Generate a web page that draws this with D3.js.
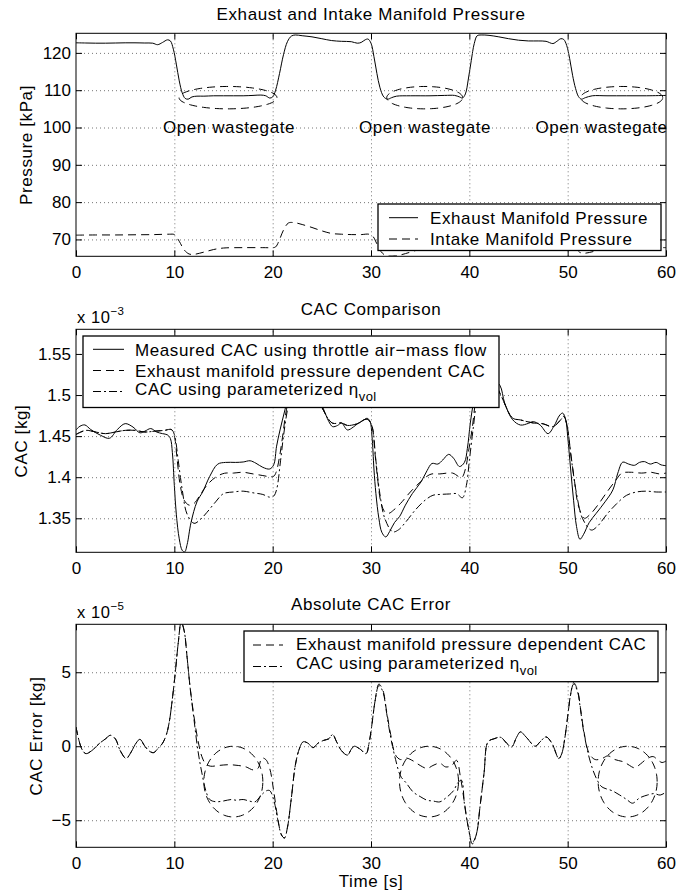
<!DOCTYPE html>
<html>
<head>
<meta charset="utf-8">
<script src="https://cdn.jsdelivr.net/npm/d3@7"></script>
<style>
  html, body { margin: 0; padding: 0; background: #fff; }
  svg { display: block; }
  text { font-family: "Liberation Sans", Arial, Helvetica, sans-serif; fill: #000; }
</style>
</head>
<body>
<svg id="chart" width="677" height="895"></svg>
<script>
// ---------- shared axis data ----------
const timeTicks = [0, 10, 20, 30, 40, 50, 60];

// ---------- panel 1: manifold pressures [kPa] ----------
const pressureTicks = [70, 80, 90, 100, 110, 120];
const exhaustPressure = [
  [0,122.7],[1,122.65],[2,122.6],[3,122.6],[4,122.65],[5,122.7],[6,122.7],[7,122.65],[7.8,122.6],
  [8.3,122.2],[8.8,122.8],[9.3,123.5],[9.6,123.2],[9.9,121.0],[10.2,117.0],[10.5,112.5],[10.8,109.3],
  [11.1,107.8],[11.4,107.6],[11.8,108.2],[12.3,108.4],[13,108.4],[14,108.5],[15,108.5],[16,108.5],
  [17,108.5],[18,108.6],[18.8,108.7],[19.3,108.5],[19.7,107.9],[20.0,108.2],[20.3,110.0],[20.7,114.5],
  [21.1,119.5],[21.5,123.0],[21.9,124.5],[22.3,124.8],[23,124.6],[24,124.3],[25,123.8],[26,123.3],
  [27,123.1],[28,123.0],[28.6,122.6],[29.0,122.8],[29.4,123.5],[29.7,123.7],[30.0,122.6],[30.3,119.0],
  [30.6,114.5],[30.9,110.8],[31.3,108.2],[31.7,107.6],[32.1,108.0],[32.6,108.4],[34,108.5],[36,108.5],
  [37.5,108.6],[38.5,108.6],[39.0,108.2],[39.3,107.9],[39.6,109.0],[39.9,113.0],[40.2,118.0],
  [40.5,122.5],[40.8,124.6],[41.2,124.8],[42,124.7],[43,124.3],[44,123.8],[45,123.4],[46,123.2],
  [47,123.2],[47.8,123.1],[48.5,122.5],[48.9,123.1],[49.3,123.8],[49.6,123.6],[49.9,122.0],
  [50.2,118.5],[50.5,114.0],[50.8,110.5],[51.1,108.3],[51.4,107.6],[51.8,108.0],[52.5,108.5],
  [54,108.5],[56,108.5],[58,108.5],[60,108.6]
];
const intakePressure = [
  [0,71.15],[2,71.2],[4,71.2],[6,71.25],[8,71.3],[9.5,71.4],[10,71.3],[10.5,69.5],[11,67.2],
  [11.5,66.1],[12,66.0],[13,66.6],[14,67.3],[15,67.7],[17,67.8],[19,67.8],[19.9,67.8],[20.3,68.0],
  [20.7,70.0],[21.1,72.5],[21.6,74.4],[22.2,74.5],[23,74.0],[24,73.2],[25,72.3],[26,71.6],[27,71.4],
  [28,71.3],[29,71.3],[29.8,71.4],[30.2,70.8],[30.6,68.8],[31.0,66.8],[31.5,65.7],[32.5,65.6],
  [33.5,66.2],[34.5,67.0],[35.5,67.5],[37,67.8],[39.8,67.8],[40.3,68.6],[40.8,70.8],[41.4,73.2],
  [42,74.4],[42.5,74.6],[44,73.5],[45.5,72.2],[47,71.5],[49,71.3],[49.8,71.4],[50.2,70.8],
  [50.7,68.5],[51.2,66.6],[51.6,66.3],[52.2,66.5],[53,67.0],[54,67.4],[55,67.7],[57,67.8],[60,67.8]
];
// dashed ellipses marking the open-wastegate intervals (time, kPa)
const wastegateCenters = [15.46, 35.46, 55.5];
const wastegateRadiiT = [4.98, 3.86, 4.17];
const wastegateCenterP = 108.0;
const wastegateRadiusP = 3.0;
const wastegateLabelT = [15.56, 35.5, 53.45];
const wastegateLabelP = 100;

// ---------- panel 2: cylinder air charge [x 1e-3 kg] ----------
const cacTicks = [1.35, 1.4, 1.45, 1.5, 1.55];
const cacTickLabels = ["1.35", "1.4", "1.45", "1.5", "1.55"];
const cacMeasured = [
  [0,1.4575],[0.4,1.462],[0.9,1.4636],[1.5,1.458],[2.5,1.451],[3.4,1.4474],[4.2,1.458],[5.0,1.4652],
  [5.8,1.461],[6.5,1.454],[7.0,1.456],[7.6,1.4592],[8.2,1.455],[8.8,1.453],[9.3,1.4515],[9.6,1.447],
  [9.8,1.43],[10.0,1.39],[10.2,1.355],[10.5,1.325],[10.8,1.311],[11.05,1.309],[11.3,1.318],
  [11.7,1.345],[12.3,1.370],[12.9,1.3825],[13.6,1.401],[14.4,1.4158],[15.2,1.418],[16.2,1.418],
  [17.0,1.4185],[17.7,1.420],[18.3,1.417],[19.0,1.412],[19.7,1.410],[20.1,1.415],[20.4,1.4378],
  [20.75,1.4575],[21.25,1.482],[21.8,1.51],[22.5,1.525],[23.5,1.52],[24.5,1.50],[25.2,1.482],
  [25.7,1.468],[26.1,1.4615],[26.6,1.463],[27.0,1.466],[27.6,1.4575],[28.2,1.461],[28.7,1.4657],
  [29.2,1.469],[29.6,1.4717],[29.9,1.468],[30.1,1.45],[30.3,1.41],[30.5,1.38],[30.8,1.35],
  [31.1,1.333],[31.5,1.3273],[31.9,1.334],[32.4,1.345],[32.9,1.352],[33.5,1.366],[34.2,1.38],
  [35.1,1.3945],[35.7,1.408],[36.2,1.4167],[36.8,1.416],[37.3,1.421],[37.9,1.4278],[38.4,1.423],
  [39.0,1.413],[39.5,1.418],[39.8,1.435],[40.1,1.466],[40.4,1.49],[40.8,1.515],[41.5,1.528],
  [42.3,1.52],[43.1,1.512],[43.6,1.49],[44.4,1.470],[45.2,1.4635],[46.0,1.4655],[46.5,1.4676],
  [47.2,1.4635],[48.0,1.453],[48.6,1.462],[49.2,1.4757],[49.5,1.478],[49.8,1.47],[50.0,1.45],
  [50.3,1.41],[50.6,1.372],[50.9,1.34],[51.25,1.3245],[51.6,1.33],[52.2,1.345],[52.9,1.356],
  [53.8,1.37],[54.6,1.3846],[55.1,1.405],[55.6,1.4183],[56.2,1.416],[56.8,1.4145],[57.3,1.418],
  [57.8,1.419],[58.4,1.416],[59.0,1.418],[59.5,1.415],[60,1.414]
];
const cacExhaustModel = [
  [0,1.452],[1,1.457],[2,1.455],[3,1.453],[4,1.455],[5,1.457],[6,1.457],[7,1.455],[8,1.456],[9,1.457],
  [9.7,1.458],[10.0,1.45],[10.3,1.42],[10.6,1.39],[11.0,1.372],[11.5,1.366],[12.0,1.368],[12.6,1.378],
  [13.3,1.39],[14.2,1.40],[15.1,1.4048],[16,1.405],[17,1.406],[18,1.404],[19,1.402],[19.7,1.4006],
  [20.1,1.401],[20.35,1.406],[20.7,1.425],[21.0,1.4487],[21.4,1.482],[22,1.51],[23,1.52],[24,1.505],
  [25,1.485],[25.6,1.472],[26.1,1.4657],[27,1.466],[27.6,1.463],[28.3,1.464],[28.8,1.466],[29.3,1.470],
  [29.7,1.470],[30.1,1.462],[30.4,1.43],[30.7,1.395],[31.0,1.37],[31.4,1.358],[31.8,1.356],[32.3,1.36],
  [33,1.368],[34,1.382],[35,1.394],[35.8,1.402],[36.2,1.404],[37,1.404],[38.3,1.405],[39.2,1.3995],
  [39.6,1.41],[39.9,1.43],[40.3,1.46],[40.7,1.495],[41.5,1.52],[42.5,1.515],[43.2,1.50],[44.4,1.472],
  [45.2,1.4697],[46.5,1.466],[47.5,1.465],[48.5,1.4615],[49.3,1.47],[49.6,1.474],[49.9,1.465],
  [50.3,1.43],[50.7,1.395],[51.1,1.365],[51.7,1.35],[52.3,1.355],[53,1.365],[54,1.382],[55,1.398],
  [55.5,1.405],[56.5,1.406],[57.5,1.405],[58.5,1.406],[59.3,1.404],[60,1.405]
];
const cacEtaModel = [
  [0,1.452],[1,1.457],[2,1.455],[3,1.453],[4,1.455],[5,1.457],[6,1.457],[7,1.455],[8,1.456],[9,1.457],
  [9.7,1.458],[10.0,1.452],[10.4,1.42],[10.8,1.385],[11.3,1.355],[12.0,1.3439],[12.6,1.348],
  [13.3,1.357],[14.2,1.37],[15.0,1.38],[16,1.382],[17,1.383],[18,1.381],[19,1.379],[19.7,1.3757],
  [20.1,1.377],[20.4,1.385],[20.8,1.42],[21.1,1.45],[21.5,1.482],[22,1.51],[23,1.52],[24,1.505],
  [25,1.485],[25.6,1.472],[26.1,1.4657],[27,1.466],[27.6,1.463],[28.3,1.464],[28.8,1.466],[29.3,1.470],
  [29.7,1.470],[30.1,1.462],[30.5,1.42],[30.9,1.38],[31.4,1.35],[32.2,1.3335],[32.8,1.336],
  [33.5,1.345],[34.5,1.36],[35.5,1.372],[36.3,1.378],[37,1.379],[38,1.3796],[38.7,1.38],[39.3,1.375],
  [39.7,1.39],[40.0,1.42],[40.4,1.46],[40.8,1.495],[41.5,1.52],[42.5,1.515],[43.2,1.50],[44.4,1.472],
  [45.2,1.4697],[46.5,1.466],[47.5,1.465],[48.5,1.4615],[49.3,1.47],[49.6,1.474],[49.9,1.465],
  [50.4,1.42],[50.9,1.38],[51.5,1.35],[52.4,1.3357],[53,1.34],[54,1.355],[55,1.368],[56,1.378],
  [57,1.382],[58,1.383],[59,1.382],[60,1.382]
];

// ---------- panel 3: absolute CAC error [x 1e-5 kg] ----------
const errorTicks = [-5, 0, 5];
const errorTickLabels = ["\u22125", "0", "5"];
const errorExhaustModel = [
  [0,1.3],[0.3,0.4],[0.6,-0.2],[1.0,-0.5],[1.6,-0.3],[2.4,0.2],[3.0,0.5],[3.5,0.74],[4.0,0.5],
  [4.5,-0.3],[5.1,-0.83],[5.6,-0.4],[6.1,0.2],[6.5,0.47],[7.0,0.0],[7.5,-0.35],[7.9,-0.43],[8.4,-0.1],
  [8.8,0.2],[9.2,0.8],[9.5,1.7],[9.8,3.2],[10.1,5.0],[10.4,7.0],[10.7,8.4],[11.0,7.8],[11.3,6.0],
  [11.6,4.0],[12.0,2.0],[12.4,0.4],[12.8,-0.7],[13.2,-1.2],[13.7,-1.35],[14.5,-1.3],[15.5,-1.25],
  [16.5,-1.3],[17.3,-1.4],[18.0,-1.6],[18.5,-1.5],[18.9,-0.8],[19.3,-0.9],[19.7,-1.5],[20.1,-3.0],
  [20.5,-4.8],[20.9,-6.0],[21.2,-6.2],[21.5,-5.5],[21.9,-3.5],[22.3,-1.3],[22.7,-0.2],[23.1,0.3],
  [23.6,0.2],[24.1,-0.1],[24.6,0.2],[25.2,0.4],[25.7,0.5],[26.1,0.79],[26.5,0.3],[27.0,-0.3],
  [27.6,-0.6],[28.0,-0.2],[28.3,0.0],[28.9,-0.2],[29.5,-0.5],[29.8,0.2],[30.1,1.5],[30.4,3.0],
  [30.8,4.2],[31.2,3.8],[31.6,2.3],[32.0,0.8],[32.5,-0.6],[33.0,-0.9],[33.6,-0.8],[34.3,-1.0],
  [35.0,-1.3],[35.7,-1.5],[36.3,-1.3],[37.0,-1.15],[37.6,-1.4],[38.2,-1.3],[38.7,-0.95],[39.1,-2.1],
  [39.5,-3.8],[39.9,-5.5],[40.3,-6.5],[40.7,-6.0],[41.1,-4.0],[41.5,-1.8],[41.9,0.3],[42.5,0.5],
  [43.2,0.6],[43.8,0.2],[44.3,-0.05],[44.8,0.6],[45.2,0.97],[45.8,0.6],[46.7,0.0],[47.2,0.3],
  [47.8,0.63],[48.4,0.2],[49.1,-0.83],[49.4,-0.5],[49.7,0.5],[50.0,2.0],[50.3,3.5],[50.6,4.3],
  [51.0,3.8],[51.3,2.6],[51.6,1.2],[52.2,-0.5],[52.8,-0.9],[53.5,-0.83],[54.1,-0.65],[54.8,-0.9],
  [55.7,-1.06],[56.3,-1.3],[56.8,-1.46],[57.4,-1.2],[58.1,-0.83],[58.7,-0.7],[59.2,-0.95],
  [59.6,-1.1],[60,-1.0]
];
const errorEtaModel = [
  [0,1.3],[0.3,0.4],[0.6,-0.2],[1.0,-0.5],[1.6,-0.3],[2.4,0.2],[3.0,0.5],[3.5,0.74],[4.0,0.5],
  [4.5,-0.3],[5.1,-0.83],[5.6,-0.4],[6.1,0.2],[6.5,0.47],[7.0,0.0],[7.5,-0.35],[7.9,-0.43],[8.4,-0.1],
  [8.8,0.2],[9.2,0.8],[9.5,1.7],[9.8,3.2],[10.1,5.0],[10.4,7.0],[10.7,8.4],[11.0,7.8],[11.3,6.0],
  [11.6,4.0],[12.0,1.8],[12.4,-0.3],[12.8,-1.8],[13.2,-3.0],[13.6,-3.6],[14.2,-3.75],[15.0,-3.7],
  [15.8,-3.6],[16.3,-3.65],[17.0,-3.6],[17.6,-3.7],[18.2,-3.76],[18.6,-3.5],[19.0,-3.2],[19.4,-3.0],
  [19.7,-3.0],[20.1,-3.6],[20.5,-4.9],[20.9,-6.0],[21.2,-6.2],[21.5,-5.5],[21.9,-3.5],[22.3,-1.3],
  [22.7,-0.2],[23.1,0.3],[23.6,0.2],[24.1,-0.1],[24.6,0.2],[25.2,0.4],[25.7,0.5],[26.1,0.79],
  [26.5,0.3],[27.0,-0.3],[27.6,-0.6],[28.0,-0.2],[28.3,0.0],[28.9,-0.2],[29.5,-0.5],[29.8,0.2],
  [30.1,1.5],[30.4,3.0],[30.8,4.1],[31.2,3.7],[31.6,2.2],[32.0,0.6],[32.5,-0.9],[33.0,-2.0],
  [33.6,-2.5],[34.3,-3.1],[35.0,-3.4],[35.7,-3.65],[36.3,-3.7],[37.0,-3.76],[37.6,-3.5],[38.4,-3.0],
  [38.8,-2.5],[39.2,-2.3],[39.5,-3.9],[39.9,-5.5],[40.3,-6.6],[40.7,-6.0],[41.1,-4.0],[41.5,-1.8],
  [41.9,0.3],[42.5,0.5],[43.2,0.6],[43.8,0.2],[44.3,-0.05],[44.8,0.6],[45.2,0.97],[45.8,0.6],
  [46.7,0.0],[47.2,0.3],[47.8,0.63],[48.4,0.2],[49.1,-0.83],[49.4,-0.5],[49.7,0.5],[50.0,2.0],
  [50.3,3.5],[50.6,4.2],[51.0,3.7],[51.3,2.5],[51.6,1.1],[52.2,-0.8],[52.8,-2.0],[53.4,-2.7],
  [53.8,-2.85],[54.5,-3.0],[55.3,-3.3],[56.0,-3.6],[56.6,-3.85],[57.3,-3.5],[58.1,-3.3],[58.8,-3.2],
  [59.4,-3.3],[60,-3.1]
];
// dashed circles around the low-error intervals (time, x 1e-5 kg)
const errorCircleCenters = [16.0, 35.9, 56.1];
const errorCircleRadiusT = 3.0;
const errorCircleCenterE = -2.39;
const errorCircleRadiusE = 2.39;

// ---------- drawing ----------
const svg = d3.select("#chart");
const plotLeft = 76, plotRight = 666, plotHeight = 223;
const FONT = 17;
const DASH = "8,5";
const DASHDOT = "8,3,2,3";

const x = d3.scaleLinear().domain([0, 60]).range([plotLeft, plotRight]);
const smooth = d3.curveCatmullRom.alpha(0.5);

function makePanel(id, top, yDomain) {
  const y = d3.scaleLinear().domain(yDomain).range([top + plotHeight, top]);
  const g = svg.append("g");
  svg.append("clipPath").attr("id", "clip-" + id)
    .append("rect").attr("x", plotLeft).attr("y", top)
    .attr("width", plotRight - plotLeft).attr("height", plotHeight);
  const plot = g.append("g").attr("clip-path", `url(#clip-${id})`);
  return { y, g, plot, top, bottom: top + plotHeight };
}

function drawGrid(p, yTicks) {
  const gx = p.g.append("g").attr("transform", `translate(0,${p.bottom})`)
    .call(d3.axisBottom(x).tickValues(timeTicks.slice(1, -1)).tickSize(-plotHeight).tickFormat(""));
  const gy = p.g.append("g").attr("transform", `translate(${plotLeft},0)`)
    .call(d3.axisLeft(p.y).tickValues(yTicks).tickSize(-(plotRight - plotLeft)).tickFormat(""));
  [gx, gy].forEach(a => {
    a.select(".domain").remove();
    a.selectAll("line").attr("stroke", "#666").attr("stroke-width", 0.9).attr("stroke-dasharray", "1,3");
  });
}

function drawFrame(p, yTicks, yLabels) {
  const w = plotRight - plotLeft;
  const axB = p.g.append("g").attr("transform", `translate(0,${p.bottom})`)
    .call(d3.axisBottom(x).tickValues(timeTicks).tickSize(-6).tickPadding(9.4).tickFormat(d3.format("d")));
  const axT = p.g.append("g").attr("transform", `translate(0,${p.top})`)
    .call(d3.axisTop(x).tickValues(timeTicks).tickSize(-6).tickFormat(""));
  const axL = p.g.append("g").attr("transform", `translate(${plotLeft},0)`)
    .call(d3.axisLeft(p.y).tickValues(yTicks).tickSize(-6).tickPadding(5).tickFormat((d, i) => yLabels[i]));
  const axR = p.g.append("g").attr("transform", `translate(${plotRight},0)`)
    .call(d3.axisRight(p.y).tickValues(yTicks).tickSize(-6).tickFormat(""));
  [axB, axT, axL, axR].forEach(a => {
    a.select(".domain").remove();
    a.selectAll("line").attr("stroke", "#000").attr("stroke-width", 1);
    a.selectAll("text").attr("font-size", FONT).attr("font-family", null).attr("fill", "#000");
  });
  p.g.append("rect").attr("x", plotLeft).attr("y", p.top).attr("width", w).attr("height", plotHeight)
    .attr("fill", "none").attr("stroke", "#000").attr("stroke-width", 1);
}

function drawSeries(p, data, dash) {
  const line = d3.line().x(d => x(d[0])).y(d => p.y(d[1])).curve(smooth);
  p.plot.append("path").datum(data).attr("d", line)
    .attr("fill", "none").attr("stroke", "#000").attr("stroke-width", 1)
    .attr("stroke-dasharray", dash || null);
}

function drawEllipse(p, cx, cy, rx, ry) {
  const pts = d3.range(0, 361, 4).map(a => {
    const r = a * Math.PI / 180;
    return [cx + rx * Math.cos(r), cy + ry * Math.sin(r)];
  });
  const line = d3.line().x(d => x(d[0])).y(d => p.y(d[1]));
  p.g.append("path").datum(pts).attr("d", line)
    .attr("fill", "none").attr("stroke", "#000").attr("stroke-width", 1).attr("stroke-dasharray", DASH);
}

function addText(sel, str, xp, yp, opts = {}) {
  return sel.append("text").attr("x", xp).attr("y", yp)
    .attr("font-size", opts.size || FONT)
    .attr("letter-spacing", opts.spacing !== undefined ? opts.spacing : 0.6)
    .attr("text-anchor", opts.anchor || "start")
    .text(str);
}

function drawLegend(p, box, rows) {
  const lg = p.g.append("g");
  lg.append("rect").attr("x", box.x0).attr("y", box.y0)
    .attr("width", box.x1 - box.x0).attr("height", box.y1 - box.y0)
    .attr("fill", "#fff").attr("stroke", "#000").attr("stroke-width", 1.3);
  rows.forEach(r => {
    lg.append("line").attr("x1", box.sx0).attr("x2", box.sx1).attr("y1", r.ly).attr("y2", r.ly)
      .attr("stroke", "#000").attr("stroke-width", 1).attr("stroke-dasharray", r.dash || null);
    const t = addText(lg, r.label, box.tx, r.ty);
    if (r.sub) {
      t.append("tspan").text("\u03b7");
      t.append("tspan").attr("dy", 6).attr("font-size", 13).attr("letter-spacing", 0.3).text(r.sub);
    }
  });
}

// power-of-ten multiplier shown above the y axis
function drawExponent(yBase, exponent) {
  const e = addText(svg, "x 10", 77, yBase, { size: 16.5, spacing: 0.6 });
  e.append("tspan").attr("dy", -8).attr("font-size", 11.5).attr("letter-spacing", 0.3).text(exponent);
}

// ----- panel 1 -----
const p1 = makePanel("p1", 33.3, [65.48, 125.25]);
drawGrid(p1, pressureTicks);
drawSeries(p1, exhaustPressure);
drawSeries(p1, intakePressure, DASH);
wastegateCenters.forEach((c, i) => drawEllipse(p1, c, wastegateCenterP, wastegateRadiiT[i], wastegateRadiusP));
wastegateLabelT.forEach(t => addText(p1.g, "Open wastegate", x(t), p1.y(wastegateLabelP) + 5.8, { anchor: "middle" }));
drawLegend(p1, { x0: 378, y0: 204, x1: 661, y1: 250.5, sx0: 389, sx1: 418, tx: 430 }, [
  { label: "Exhaust Manifold Pressure", ly: 217.7, ty: 224 },
  { label: "Intake Manifold Pressure", ly: 239, ty: 245, dash: DASH }
]);
drawFrame(p1, pressureTicks, pressureTicks.map(String));
addText(svg, "Exhaust and Intake Manifold Pressure", 371, 19.5, { anchor: "middle" });
addText(svg, "Pressure [kPa]", 0, 0, { anchor: "middle" })
  .attr("transform", "translate(26,145) rotate(-90)").attr("dy", "0.35em");

// ----- panel 2 -----
const p2 = makePanel("p2", 329.3, [1.3086, 1.5800]);
drawGrid(p2, cacTicks);
drawSeries(p2, cacMeasured);
drawSeries(p2, cacExhaustModel, DASH);
drawSeries(p2, cacEtaModel, DASHDOT);
drawLegend(p2, { x0: 83, y0: 336, x1: 499, y1: 407.5, sx0: 93, sx1: 124, tx: 135 }, [
  { label: "Measured CAC using throttle air\u2212mass flow", ly: 349.3, ty: 356 },
  { label: "Exhaust manifold pressure dependent CAC", ly: 370.5, ty: 376.8, dash: DASH },
  { label: "CAC using parameterized ", ly: 391.5, ty: 394.5, dash: DASHDOT, sub: "vol" }
]);
drawFrame(p2, cacTicks, cacTickLabels);
addText(svg, "CAC Comparison", 371, 315.3, { anchor: "middle" });
addText(svg, "CAC [kg]", 0, 0, { anchor: "middle" })
  .attr("transform", "translate(21,441) rotate(-90)").attr("dy", "0.35em");
drawExponent(322.5, "\u22123");

// ----- panel 3 -----
const p3 = makePanel("p3", 624.3, [-6.83, 8.24]);
drawGrid(p3, errorTicks);
drawSeries(p3, errorExhaustModel, DASH);
drawSeries(p3, errorEtaModel, DASHDOT);
errorCircleCenters.forEach(c => drawEllipse(p3, c, errorCircleCenterE, errorCircleRadiusT, errorCircleRadiusE));
drawLegend(p3, { x0: 244, y0: 631, x1: 658, y1: 681.7, sx0: 253, sx1: 283, tx: 296 }, [
  { label: "Exhaust manifold pressure dependent CAC", ly: 645, ty: 650.3, dash: DASH },
  { label: "CAC using parameterized ", ly: 666.5, ty: 668.5, dash: DASHDOT, sub: "vol" }
]);
drawFrame(p3, errorTicks, errorTickLabels);
addText(svg, "Absolute CAC Error", 371, 610.3, { anchor: "middle" });
addText(svg, "CAC Error [kg]", 0, 0, { anchor: "middle" })
  .attr("transform", "translate(35.6,736) rotate(-90)").attr("dy", "0.35em");
drawExponent(617.5, "\u22125");
addText(svg, "Time [s]", 371, 887, { anchor: "middle" });
</script>
</body>
</html>
